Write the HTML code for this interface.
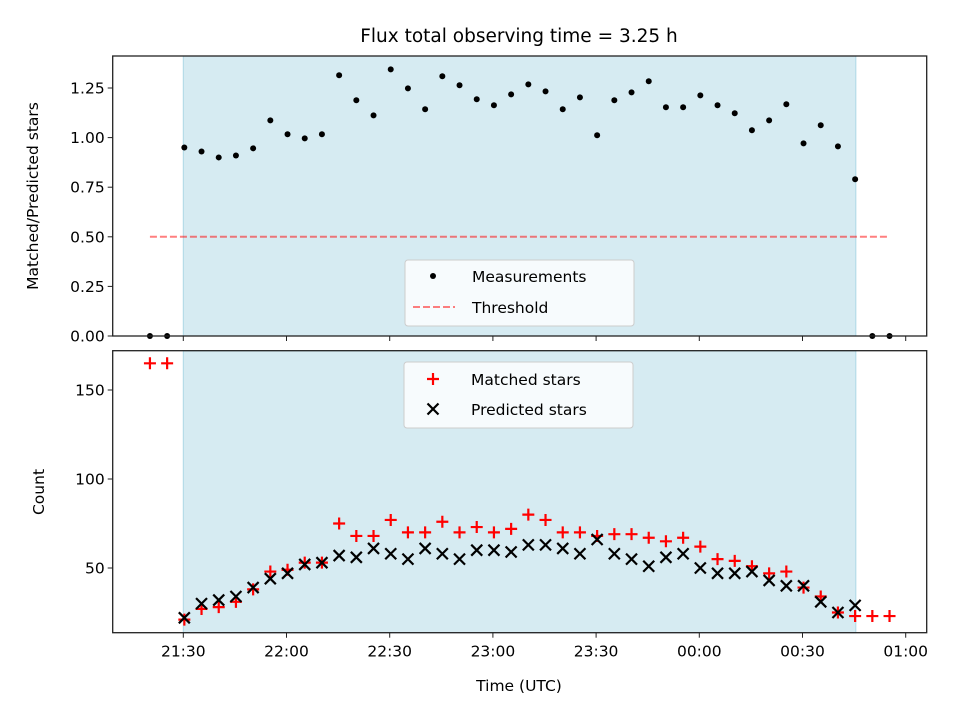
<!DOCTYPE html>
<html><head><meta charset="utf-8"><style>
body{margin:0;background:#fff}
svg{font-family:"DejaVu Sans","Liberation Sans",sans-serif}
</style></head><body>
<svg id="c" width="960" height="720" viewBox="0 0 960 720"></svg>
<script>
// minutes after 21:00
const times=[20.3,25.3,30.3,35.3,40.3,45.3,50.3,55.3,60.3,65.3,70.3,75.3,80.3,85.3,90.3,95.3,100.3,105.3,110.3,115.3,120.3,125.3,130.3,135.3,140.3,145.3,150.3,155.3,160.3,165.3,170.3,175.3,180.3,185.3,190.3,195.3,200.3,205.3,210.3,215.3,220.3,225.3,230.3,235.3];
const ratio=[0,0,0.95,0.93,0.90,0.91,0.946,1.087,1.017,0.996,1.017,1.314,1.188,1.112,1.344,1.248,1.143,1.309,1.264,1.193,1.163,1.218,1.268,1.233,1.143,1.203,1.012,1.188,1.228,1.284,1.153,1.153,1.213,1.163,1.123,1.037,1.087,1.168,0.971,1.062,0.956,0.79,0,0];
const matched=[165,165,21,27,28,31,38,48,49,53,53,75,68,68,77,70,70,76,70,73,70,72,80,77,70,70,68,69,69,67,65,67,62,55,54,51,47,48,39,34,25,23,23,23];
const predicted=[null,null,22,30,32,34,39,44,47,52,53,57,56,61,58,55,61,58,55,60,60,59,63,63,61,58,66,58,55,51,56,58,50,47,47,48,43,40,40,31,25,29,null,null];
const topTicks=[0,0.25,0.5,0.75,1.0,1.25];
const botTicks=[50,100,150];
const xTickMin=[30,60,90,120,150,180,210,240];
const xTickLabels=["21:30","22:00","22:30","23:00","23:30","00:00","00:30","01:00"];
const shade=[30,225.5];
const threshold=0.5;
const threshRange=[20.3,235.3];

const NS="http://www.w3.org/2000/svg";
const svg=document.getElementById('c');
function el(tag,attrs,parent){const e=document.createElementNS(NS,tag);for(const k in attrs)e.setAttribute(k,attrs[k]);(parent||svg).appendChild(e);return e;}
const L=112.7,R=926.7;
const x=m=>183.3+(m-30)*3.44;
const T={top:56,bot:336}, B={top:350.7,bot:632.7};
const yT=v=>336-v*198.4;
const yB=v=>568-(v-50)*1.78;
const FS=15.5;

let t=el('text',{x:519,y:42,'text-anchor':'middle','font-size':18.5});t.textContent="Flux total observing time = 3.25 h";


function panel(P,name){
  const g=el('g',{});
  
  const s=el('rect',{x:x(shade[0]),y:P.top,width:x(shade[1])-x(shade[0]),height:P.bot-P.top,fill:'#add8e6','fill-opacity':0.5,stroke:'#add8e6','stroke-width':1},g);
  
  return g;
}
const gT=panel(T,'top-panel'), gB=panel(B,'bottom-panel');

let th=el('line',{x1:x(threshRange[0]),x2:x(threshRange[1]),y1:yT(threshold),y2:yT(threshold),stroke:'#ff0000','stroke-opacity':0.5,'stroke-width':2,'stroke-dasharray':'7,3'},gT);


ratio.forEach((v,i)=>{const c=el('circle',{cx:x(times[i]),cy:yT(v),r:3,fill:'#000'},gT);
  });

matched.forEach((v,i)=>{const cx=x(times[i]),cy=yB(v);
  const p=el('path',{d:`M${cx-6} ${cy}H${cx+6}M${cx} ${cy-6}V${cy+6}`,stroke:'#f00','stroke-width':2.2},gB);
  });
predicted.forEach((v,i)=>{if(v===null)return;const cx=x(times[i]),cy=yB(v);
  const p=el('path',{d:`M${cx-5.5} ${cy-5.5}L${cx+5.5} ${cy+5.5}M${cx-5.5} ${cy+5.5}L${cx+5.5} ${cy-5.5}`,stroke:'#000','stroke-width':2.2},gB);
  });

function frame(P,name){const r=el('rect',{x:L,y:P.top,width:R-L,height:P.bot-P.top,fill:'none',stroke:'#222','stroke-width':1.3});
  }
frame(T,'top-axes-frame');frame(B,'bottom-axes-frame');
topTicks.forEach(v=>{const y=yT(v);el('line',{x1:L-5,x2:L,y1:y,y2:y,stroke:'#222'});
  const tx=el('text',{x:L-8,y:y+5.5,'text-anchor':'end','font-size':FS});tx.textContent=v.toFixed(2);
  });
botTicks.forEach(v=>{const y=yB(v);el('line',{x1:L-5,x2:L,y1:y,y2:y,stroke:'#222'});
  const tx=el('text',{x:L-8,y:y+5.5,'text-anchor':'end','font-size':FS});tx.textContent=v;
  });
xTickMin.forEach((m,i)=>{const xx=x(m);
  el('line',{x1:xx,x2:xx,y1:T.bot,y2:T.bot+5,stroke:'#222'});
  el('line',{x1:xx,x2:xx,y1:B.bot,y2:B.bot+5,stroke:'#222'});
  const tx=el('text',{x:xx,y:B.bot+24,'text-anchor':'middle','font-size':FS});tx.textContent=xTickLabels[i];
  });

let a=el('text',{x:519,y:691,'text-anchor':'middle','font-size':FS});a.textContent="Time (UTC)";

a=el('text',{x:38,y:196,'text-anchor':'middle','font-size':FS,transform:'rotate(-90 38 196)'});a.textContent="Matched/Predicted stars";

a=el('text',{x:44,y:492,'text-anchor':'middle','font-size':FS,transform:'rotate(-90 44 492)'});a.textContent="Count";


function legend(x0,y0,name){const g=el('g',{});
  el('rect',{x:x0,y:y0,width:229,height:66,rx:3,fill:'#fff','fill-opacity':0.8,stroke:'#ccc'},g);return g;}
let lg=legend(405,260,'top-legend');
el('circle',{cx:433,cy:276,r:3,fill:'#000'},lg);
let lt=el('text',{x:472,y:282,'font-size':FS},lg);lt.textContent="Measurements";

el('line',{x1:413,x2:455,y1:307,y2:307,stroke:'#f00','stroke-opacity':0.5,'stroke-width':2,'stroke-dasharray':'7,3'},lg);
lt=el('text',{x:472,y:313,'font-size':FS},lg);lt.textContent="Threshold";

lg=legend(404,362,'bottom-legend');
el('path',{d:'M427 379H439M433 373V385',stroke:'#f00','stroke-width':2.2},lg);
lt=el('text',{x:471,y:385,'font-size':FS},lg);lt.textContent="Matched stars";

el('path',{d:'M427.5 403.5L438.5 414.5M427.5 414.5L438.5 403.5',stroke:'#000','stroke-width':2.2},lg);
lt=el('text',{x:471,y:415,'font-size':FS},lg);lt.textContent="Predicted stars";

</script>
</body></html>
